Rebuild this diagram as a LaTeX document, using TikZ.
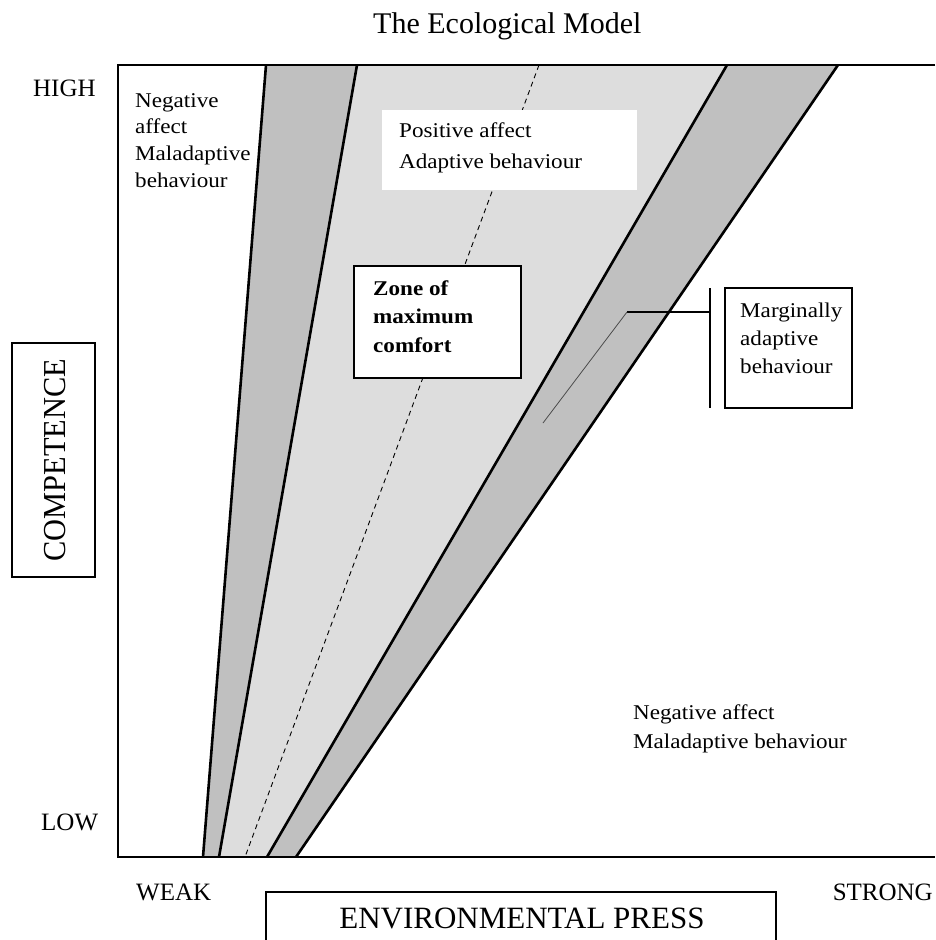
\documentclass[tikz,border=0pt]{standalone}
\usepackage{fontspec}
\setmainfont{Liberation Serif}
\newfontfamily\wide[FakeStretch=1.1]{Liberation Serif}
\newfontfamily\capsfont[FakeStretch=0.95]{Liberation Serif}
\definecolor{band}{HTML}{C0C0C0}
\definecolor{zone}{HTML}{DDDDDD}
\begin{document}
\begin{tikzpicture}[x=1pt,y=-1pt,
  txt/.style={font=\wide\fontsize{21}{#1}\selectfont, align=left, inner sep=0pt, anchor=north west},
  capslbl/.style={font=\fontsize{25}{30}\selectfont, inner sep=0pt},
  bigline/.style={line width=2.6pt, black},
  framel/.style={line width=2pt, black},
  whitebox/.style={fill=white, draw=none},
  zonebox/.style={fill=white, draw=black, line width=1.5pt},
  thinbox/.style={draw=black, line width=1.3pt}]
\useasboundingbox (0,0) rectangle (935,940);
% line ends
\coordinate (t1) at (266,65); \coordinate (b1) at (203,857);
\coordinate (t2) at (357,65); \coordinate (b2) at (219,857);
\coordinate (td) at (539,65); \coordinate (bd) at (245,857);
\coordinate (t4) at (727,65); \coordinate (b4) at (267,857);
\coordinate (t5) at (838,65); \coordinate (b5) at (296,857);
\coordinate (fTL) at (118,65); \coordinate (fBL) at (118,857);
\coordinate (fTR) at (935,65); \coordinate (fBR) at (935,857);
% fills
\fill[band] (t1) -- (t2) -- (b2) -- (b1) -- cycle;
\fill[zone] (t2) -- (t4) -- (b4) -- (b2) -- cycle;
\fill[band] (t4) -- (t5) -- (b5) -- (b4) -- cycle;
% dashed centre line
\draw[black, line width=0.9pt, dash pattern=on 5pt off 4pt] (td) -- (bd);
% positive box
\fill[whitebox] (382,110) rectangle (637,190);
\node[txt=31] (pos) at (399,115.3) {\strut Positive affect\\Adaptive behaviour};
% zone box
\draw[zonebox] (354,266) rectangle (521,378);
\node[txt=28.5, font=\wide\bfseries\fontsize{21}{28.5}\selectfont] (zonetxt) at (373,275) {\strut Zone of\\maximum\\comfort};
% frame
\draw[framel] (fTR) -- (fTL) -- (fBL) -- (fBR);
% boundary lines
\draw[bigline] (t1) -- (b1);
\draw[bigline] (t2) -- (b2);
\draw[bigline] (t4) -- (b4);
\draw[bigline] (t5) -- (b5);
% marginal pointer
\coordinate (vt) at (710,288); \coordinate (vb) at (710,408);
\coordinate (vm) at (710,312); \coordinate (bend) at (627,312);
\coordinate (tip) at (543,423);
\draw[black, line width=1.5pt] (vt) -- (vb);
\draw[black, line width=1.2pt] (vm) -- (bend);
\draw[black!70, line width=0.8pt] (bend) -- (tip);
\draw[thinbox] (725,288) rectangle (852,408);
\node[txt=28] (marg) at (740,297.4) {\strut Marginally\\adaptive\\behaviour};
% other texts
\node[txt=26.7] (negL) at (135,88.3) {\strut Negative\\affect\\Maladaptive\\behaviour};
\node[txt=29] (negR) at (633,698.7) {\strut Negative affect\\Maladaptive behaviour};
\node[font=\fontsize{30}{36}\selectfont, inner sep=0pt, anchor=base west] (title) at (373,33) {The Ecological Model};
\node[capslbl, anchor=base west] (high) at (33,96) {HIGH};
\node[capslbl, anchor=base west] (low) at (41,830) {LOW};
\node[capslbl, anchor=base west] (weak) at (136,900) {WEAK};
\node[capslbl, anchor=base east] (strong) at (933,900) {STRONG};
% environmental press
\draw[thinbox] (266,945) -- (266,892) -- (776,892) -- (776,945);
\node[font=\fontsize{31}{36}\selectfont, inner sep=0pt, anchor=base] (env) at (522,928) {ENVIRONMENTAL PRESS};
% competence
\draw[thinbox] (12,343) rectangle (95,577);
\node[font=\capsfont\fontsize{32}{36}\selectfont, inner sep=0pt, rotate=90] (comp) at (55,460) {COMPETENCE};
\end{tikzpicture}
\end{document}
